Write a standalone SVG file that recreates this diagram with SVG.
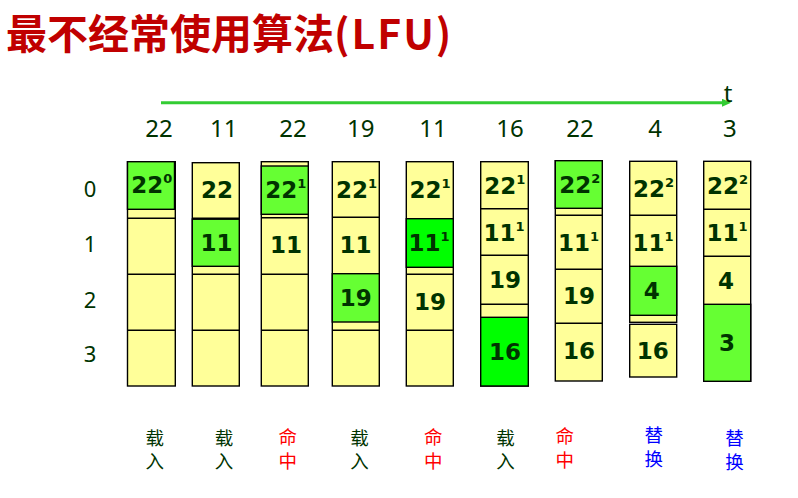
<svg xmlns="http://www.w3.org/2000/svg" width="798" height="498" viewBox="0 0 798 498">
<defs>
<style>
.y{fill:#FFFF99;stroke:#000;stroke-width:1.4}
.g{fill:#66FF33;stroke:#000;stroke-width:1.4}
.gb{fill:#00FF00;stroke:#000;stroke-width:1.4}
.ln{stroke:#000;stroke-width:1.4}
.c{font-family:"DejaVu Sans",sans-serif;font-weight:bold;font-size:23px;fill:#003300}
.s{font-size:13px}
.n{font-family:"Noto Sans","Open Sans",sans-serif;font-size:24px;fill:#003300;text-anchor:middle}
.r{font-family:"Noto Sans","Open Sans",sans-serif;font-size:22px;fill:#003300;text-anchor:middle}
.lb{font-family:"Noto Sans CJK SC",sans-serif;font-size:18.5px;text-anchor:middle}
.k{fill:#003300}.h{fill:#FF0000}.b{fill:#0000FF}
</style>
<marker id="arr" markerUnits="userSpaceOnUse" markerWidth="10" markerHeight="9" refX="0" refY="4" orient="auto">
<path d="M0,0 L9,4 L0,8 Z" fill="#33CC33"/>
</marker>
</defs>
<rect width="798" height="498" fill="#fff"/>
<text id="title" x="6" y="49" font-family="'Noto Sans CJK SC',sans-serif" font-weight="bold" font-size="41" fill="#C00000">最不经常使用算法<tspan letter-spacing="2">(LFU)</tspan></text>

<g id="connectors">
<line x1="161" y1="102.7" x2="722" y2="102.7" stroke="#33CC33" stroke-width="3" marker-end="url(#arr)"/>
</g>
<text id="t-label" x="728" y="101.5" class="n">t</text>

<g id="sequence">
<text class="n" x="159" y="137.3">22</text>
<text class="n" x="223.8" y="137.3">11</text>
<text class="n" x="293" y="137.3">22</text>
<text class="n" x="360.8" y="137.3">19</text>
<text class="n" x="433" y="137.3">11</text>
<text class="n" x="510" y="137.3">16</text>
<text class="n" x="580" y="137.3">22</text>
<text class="n" x="655" y="137.3">4</text>
<text class="n" x="729.8" y="137.3">3</text>
</g>

<g id="rows">
<text class="r" x="90" y="196.7">0</text>
<text class="r" x="90" y="252">1</text>
<text class="r" x="90" y="308">2</text>
<text class="r" x="90" y="361.7">3</text>
</g>

<g id="col1">
<rect class="y" x="127.5" y="161.7" width="47.8" height="224.3"/>
<rect class="g" x="127.5" y="161.7" width="47" height="47.6"/>
<line class="ln" x1="127.5" y1="218.3" x2="175.3" y2="218.3"/>
<line class="ln" x1="127.5" y1="274.3" x2="175.3" y2="274.3"/>
<line class="ln" x1="127.5" y1="330.3" x2="175.3" y2="330.3"/>
<text class="c" x="131.3" y="193">22<tspan class="s" dy="-10">0</tspan></text>
</g>

<g id="col2">
<rect class="y" x="192.3" y="162.7" width="47" height="223.3"/>
<rect class="g" x="192.3" y="219" width="47" height="47.3"/>
<line x1="192.3" y1="218.6" x2="239.3" y2="218.6" stroke="#000" stroke-width="2.2"/>
<line class="ln" x1="192.3" y1="274.3" x2="239.3" y2="274.3"/>
<line class="ln" x1="192.3" y1="330.3" x2="239.3" y2="330.3"/>
<text class="c" x="201" y="198.3">22</text>
<text class="c" x="200.4" y="250.5">11</text>
</g>

<g id="col3">
<rect class="y" x="261.3" y="161.7" width="47" height="224.3"/>
<rect class="g" x="261.3" y="166" width="47" height="48.3"/>
<line class="ln" x1="261.3" y1="217.7" x2="308.3" y2="217.7"/>
<line class="ln" x1="261.3" y1="274.3" x2="308.3" y2="274.3"/>
<line class="ln" x1="261.3" y1="330.3" x2="308.3" y2="330.3"/>
<text class="c" x="265.3" y="197.5">22<tspan class="s" dy="-10">1</tspan></text>
<text class="c" x="270" y="253">11</text>
</g>

<g id="col4">
<rect class="y" x="332.3" y="161.7" width="47" height="224.3"/>
<line class="ln" x1="332.3" y1="217.3" x2="379.3" y2="217.3"/>
<rect class="g" x="332.3" y="273.7" width="47" height="48.3"/>
<line class="ln" x1="332.3" y1="330.3" x2="379.3" y2="330.3"/>
<text class="c" x="336" y="197.5">22<tspan class="s" dy="-10">1</tspan></text>
<text class="c" x="339.4" y="253.3">11</text>
<text class="c" x="339.7" y="305.5">19</text>
</g>

<g id="col5">
<rect class="y" x="406.3" y="161.7" width="47" height="224.3"/>
<rect class="gb" x="406.3" y="218.7" width="47" height="48.6"/>
<line class="ln" x1="406.3" y1="274.3" x2="453.3" y2="274.3"/>
<line class="ln" x1="406.3" y1="330.3" x2="453.3" y2="330.3"/>
<text class="c" x="409.6" y="197.7">22<tspan class="s" dy="-10">1</tspan></text>
<text class="c" x="408.4" y="251">11<tspan class="s" dy="-10">1</tspan></text>
<text class="c" x="414" y="310">19</text>
</g>

<g id="col6">
<rect class="y" x="480.7" y="161.7" width="47.6" height="224.3"/>
<line class="ln" x1="480.7" y1="208.7" x2="528.3" y2="208.7"/>
<line class="ln" x1="480.7" y1="255.3" x2="528.3" y2="255.3"/>
<line class="ln" x1="480.7" y1="304.3" x2="528.3" y2="304.3"/>
<rect class="gb" x="480.7" y="317.3" width="47.6" height="68.7"/>
<text class="c" x="484.3" y="194">22<tspan class="s" dy="-10">1</tspan></text>
<text class="c" x="483.4" y="240.5">11<tspan class="s" dy="-10">1</tspan></text>
<text class="c" x="489" y="288">19</text>
<text class="c" x="489" y="360">16</text>
</g>

<g id="col7">
<rect class="y" x="555.3" y="160.7" width="47" height="220.3"/>
<rect class="g" x="555.3" y="160.7" width="47" height="47.6"/>
<line class="ln" x1="555.3" y1="215.3" x2="602.3" y2="215.3"/>
<line class="ln" x1="555.3" y1="269.3" x2="602.3" y2="269.3"/>
<line class="ln" x1="555.3" y1="323.3" x2="602.3" y2="323.3"/>
<text class="c" x="559.3" y="193.3">22<tspan class="s" dy="-10">2</tspan></text>
<text class="c" x="558" y="250.5">11<tspan class="s" dy="-10">1</tspan></text>
<text class="c" x="563" y="304">19</text>
<text class="c" x="563" y="359">16</text>
</g>

<g id="col8">
<rect class="y" x="629.7" y="161.3" width="47" height="161"/>
<line class="ln" x1="629.7" y1="215.3" x2="676.7" y2="215.3"/>
<rect class="g" x="629.7" y="266.3" width="47" height="49"/>
<rect class="y" x="629.7" y="324.3" width="47" height="52.7"/>
<text class="c" x="633" y="196.5">22<tspan class="s" dy="-10">2</tspan></text>
<text class="c" x="632.4" y="251">11<tspan class="s" dy="-10">1</tspan></text>
<text class="c" x="643.8" y="299">4</text>
<text class="c" x="636.7" y="358.5">16</text>
</g>

<g id="col9">
<rect class="y" x="703.7" y="161.3" width="47" height="220"/>
<line class="ln" x1="703.7" y1="209.3" x2="750.7" y2="209.3"/>
<line class="ln" x1="703.7" y1="256.3" x2="750.7" y2="256.3"/>
<rect class="g" x="703.7" y="304.3" width="47" height="77"/>
<text class="c" x="707" y="194">22<tspan class="s" dy="-10">2</tspan></text>
<text class="c" x="706.4" y="241">11<tspan class="s" dy="-10">1</tspan></text>
<text class="c" x="718" y="289">4</text>
<text class="c" x="719" y="350.5">3</text>
</g>

<g id="labels">
<text class="lb k" x="154.7" y="444.5">载</text><text class="lb k" x="154.7" y="468">入</text>
<text class="lb k" x="224" y="444.5">载</text><text class="lb k" x="224" y="468">入</text>
<text class="lb h" x="287.8" y="444">命</text><text class="lb h" x="287.8" y="468">中</text>
<text class="lb k" x="359.5" y="444.5">载</text><text class="lb k" x="359.5" y="468">入</text>
<text class="lb h" x="433.3" y="444">命</text><text class="lb h" x="433.3" y="468">中</text>
<text class="lb k" x="505.5" y="444.5">载</text><text class="lb k" x="505.5" y="468">入</text>
<text class="lb h" x="564.8" y="443">命</text><text class="lb h" x="564.8" y="467">中</text>
<text class="lb b" x="653.7" y="442">替</text><text class="lb b" x="653.7" y="466">换</text>
<text class="lb b" x="734.5" y="444.5">替</text><text class="lb b" x="734.5" y="468.5">换</text>
</g>
</svg>
